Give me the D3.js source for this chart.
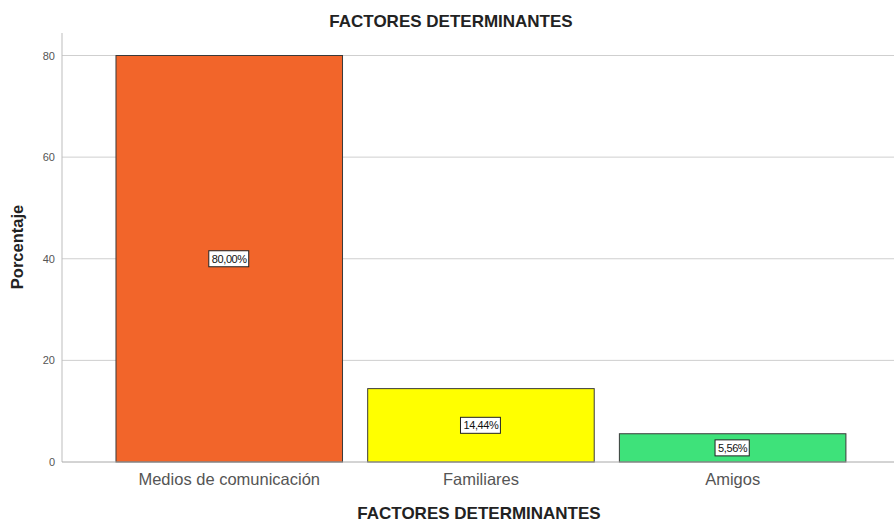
<!DOCTYPE html>
<html><head><meta charset="utf-8">
<script src="https://cdn.jsdelivr.net/npm/d3@7"></script>
<style>body{margin:0;background:#fff}svg{display:block}text{font-family:Arial,"Liberation Sans",sans-serif}</style>
</head><body>
<svg id="c" width="894" height="522"></svg>
<script>
const categories = ["Medios de comunicación", "Familiares", "Amigos"];
const values = [80.00, 14.44, 5.56];
const valueLabels = ["80,00%", "14,44%", "5,56%"];
const colors = ["#f2652a", "#ffff00", "#3ee27a"];
const yTicks = [0, 20, 40, 60, 80];

const svg = d3.select("#c");
const x = d3.scaleBand().domain(categories).range([103.4, 858.5]).paddingInner(0.1).paddingOuter(0.05);
const y = d3.scaleLinear().domain([0, 80]).range([462, 55.5]);

// gridlines
svg.append("g").selectAll("line").data(yTicks.filter(d => d > 0)).join("line")
  .attr("x1", 62).attr("x2", 894).attr("y1", d => y(d)).attr("y2", d => y(d))
  .attr("stroke", "#cfcfcf").attr("stroke-width", 1);

// bars
svg.append("g").selectAll("rect").data(values).join("rect")
  .attr("x", (d, i) => x(categories[i])).attr("width", x.bandwidth())
  .attr("y", d => y(d)).attr("height", d => y(0) - y(d))
  .attr("fill", (d, i) => colors[i]).attr("stroke", "#3a3a3a").attr("stroke-width", 1);

// axes
const yAxis = svg.append("g").attr("transform", "translate(62,0)")
  .call(d3.axisLeft(y).tickValues(yTicks).tickSize(0).tickPadding(7));
yAxis.select(".domain").remove();
yAxis.selectAll("text").attr("font-size", 11).attr("fill", "#555");
svg.append("line").attr("x1", 62).attr("x2", 62).attr("y1", 33).attr("y2", 462).attr("stroke", "#bdbdbd");
svg.append("line").attr("x1", 62).attr("x2", 894).attr("y1", 462).attr("y2", 462).attr("stroke", "#a8a8a8");

const xAxis = svg.append("g").attr("transform", "translate(0,462)")
  .call(d3.axisBottom(x).tickSize(0).tickPadding(11));
xAxis.select(".domain").remove();
xAxis.selectAll("text").attr("font-size", 16.5).attr("fill", "#555");

// value labels
const lab = svg.append("g").selectAll("g").data(values).join("g")
  .attr("transform", (d, i) => `translate(${x(categories[i]) + x.bandwidth() / 2},${y(d / 2)})`);
const rects = lab.append("rect").attr("fill", "#fff").attr("stroke", "#222").attr("stroke-width", 1);
const txt = lab.append("text").text((d, i) => valueLabels[i]).attr("text-anchor", "middle").attr("dy", "0.36em")
  .attr("font-size", 11).attr("letter-spacing", "-0.4").attr("fill", "#111");
txt.each(function(d, i) {
  const w = this.getComputedTextLength();
  d3.select(rects.nodes()[i]).attr("x", -w / 2 - 3).attr("y", -8).attr("width", w + 5).attr("height", 16);
});

// titles
svg.append("text").text("FACTORES DETERMINANTES").attr("x", 451).attr("y", 26.5)
  .attr("text-anchor", "middle").attr("font-size", 17).attr("font-weight", "bold").attr("fill", "#222");
svg.append("text").text("FACTORES DETERMINANTES").attr("x", 479).attr("y", 519)
  .attr("text-anchor", "middle").attr("font-size", 17).attr("font-weight", "bold").attr("fill", "#222");
svg.append("text").text("Porcentaje").attr("transform", "translate(23,247) rotate(-90)")
  .attr("text-anchor", "middle").attr("font-size", 16.5).attr("font-weight", "bold").attr("fill", "#222");
</script>
</body></html>
